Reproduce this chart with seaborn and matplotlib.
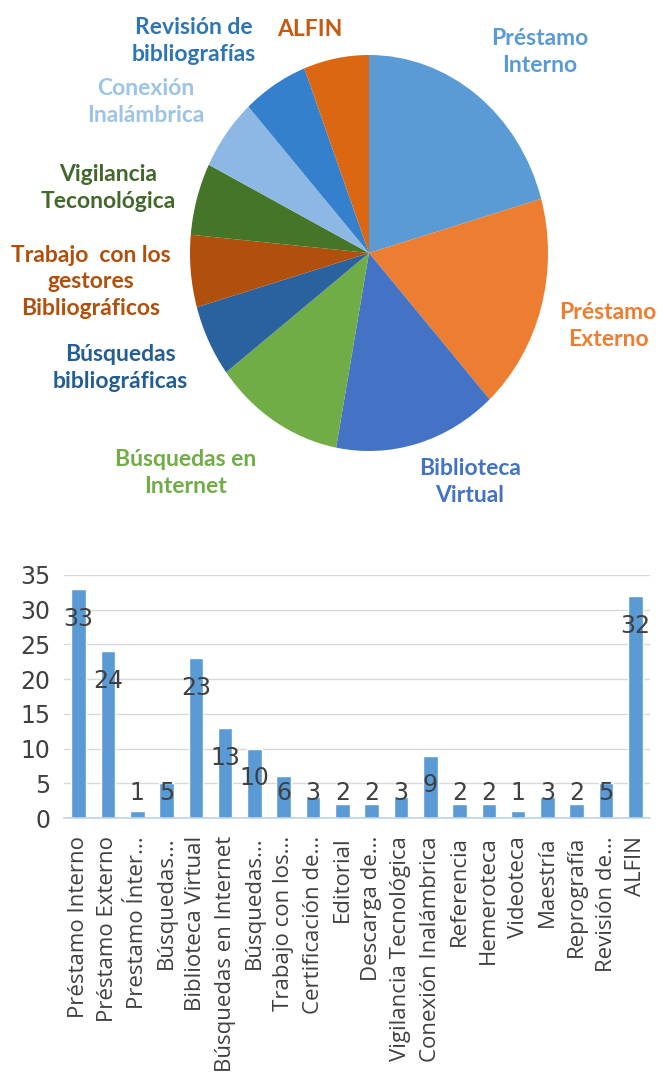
import numpy as np
import pandas as pd
import seaborn as sns
import matplotlib
matplotlib.use("Agg")
import matplotlib.pyplot as plt

# pie data
pie_labels = ["Préstamo\nInterno", "Préstamo\nExterno", "Biblioteca\nVirtual",
              "Búsquedas en\nInternet", "Búsquedas\nbibliográficas",
              "Trabajo  con los\ngestores\nBibliográficos", "Vigilancia\nTeconológica",
              "Conexión\nInalámbrica", "Revisión de\nbibliografías", "ALFIN"]
pie_values = [7, 6, 5, 4, 2, 2, 2, 2, 2, 2]
pie_colors = ["#5b9bd5", "#ed7d31", "#4472c4", "#70ad47", "#2a62a0",
              "#b0500c", "#457528", "#8db8e5", "#3580cc", "#dc6712"]
text_colors = ["#5b9bd5", "#ed7d31", "#4472c4", "#70ad47", "#255e91",
               "#b0500c", "#43682b", "#9dc3e6", "#2e75b6", "#c55a11"]

# bar data
bar_labels = ["Préstamo Interno", "Préstamo Externo", "Prestamo Ínter...", "Búsquedas...",
              "Biblioteca Virtual", "Búsquedas en Internet", "Búsquedas...", "Trabajo con los...",
              "Certificación de...", "Editorial", "Descarga de...", "Vigilancia Tecnológica",
              "Conexión Inalámbrica", "Referencia", "Hemeroteca", "Videoteca", "Maestría",
              "Reprografía", "Revisión de...", "ALFIN"]
bar_values = [33, 24, 1, 5, 23, 13, 10, 6, 3, 2, 2, 3, 9, 2, 2, 1, 3, 2, 5, 32]

W, H = 662, 1082
sns.set_theme(style="white")
plt.rcParams['font.family'] = ['Open Sans', 'DejaVu Sans']

fig = plt.figure(figsize=(W / 100, H / 100), dpi=100)

# ---- pie (slightly taller than wide, like the original) ----
pie_top, pie_bot = 0, 530
cx, cy, rx, ry = 369, 253, 179, 198
ax1 = fig.add_axes([0, 1 - pie_bot / H, 1, (pie_bot - pie_top) / H])
ax1.pie(pie_values, colors=pie_colors, startangle=90, counterclock=False,
        wedgeprops=dict(linewidth=0))
ax1.set_aspect('auto')
ax1.set_xlim(-cx / rx, (W - cx) / rx)
ax1.set_ylim(-(pie_bot - cy) / ry, cy / ry)
ax1.axis('off')

# label centres in pixels
label_px = [(540, 52), (608, 326), (470, 482), (186, 473), (120, 368),
            (91, 282), (108, 188), (146, 102), (194, 41), (310, 30)]
for lab, col, (px, py) in zip(pie_labels, text_colors, label_px):
    fig.text(px / W, 1 - py / H, lab, color=col, ha='center', va='center',
             multialignment='center', fontsize=16.5, fontweight='bold',
             family=['Lato', 'DejaVu Sans'], linespacing=1.35)

# ---- bars ----
ax2 = fig.add_axes([64 / W, 1 - 818 / H, 586 / W, (818 - 575) / H])
df = pd.DataFrame({'idx': range(len(bar_values)), 'value': bar_values})
sns.barplot(data=df, x='idx', y='value', color='#5b9bd5', saturation=1,
            width=0.5, ax=ax2)
ax2.set_ylim(0, 35)
ax2.set_xlim(-0.5, len(bar_values) - 0.5)
ax2.set_yticks(range(0, 36, 5))
ax2.grid(axis='y', color='#d9d9d9', linewidth=1)
ax2.set_axisbelow(True)
for s in ['top', 'right', 'left']:
    ax2.spines[s].set_visible(False)
ax2.spines['bottom'].set_color('#bdd3ea')
ax2.spines['bottom'].set_linewidth(1.2)
ax2.set_xlabel('')
ax2.set_ylabel('')
ax2.set_xticks(range(len(bar_labels)))
ax2.set_xticklabels(bar_labels, rotation=90, fontsize=16, color='#404040')
ax2.tick_params(axis='x', length=0, pad=13)
ax2.tick_params(axis='y', length=0, pad=10, labelsize=17, labelcolor='#404040')
for lab in ax2.get_yticklabels():
    lab.set_family(['Liberation Sans Narrow', 'DejaVu Sans'])

for i, v in enumerate(bar_values):
    ax2.text(i, max(v - 4.3, 3.6), str(v), ha='center', va='center',
             fontsize=17, color='#404040', family=['Liberation Sans Narrow', 'DejaVu Sans'])

fig.savefig('out.png', dpi=100)
